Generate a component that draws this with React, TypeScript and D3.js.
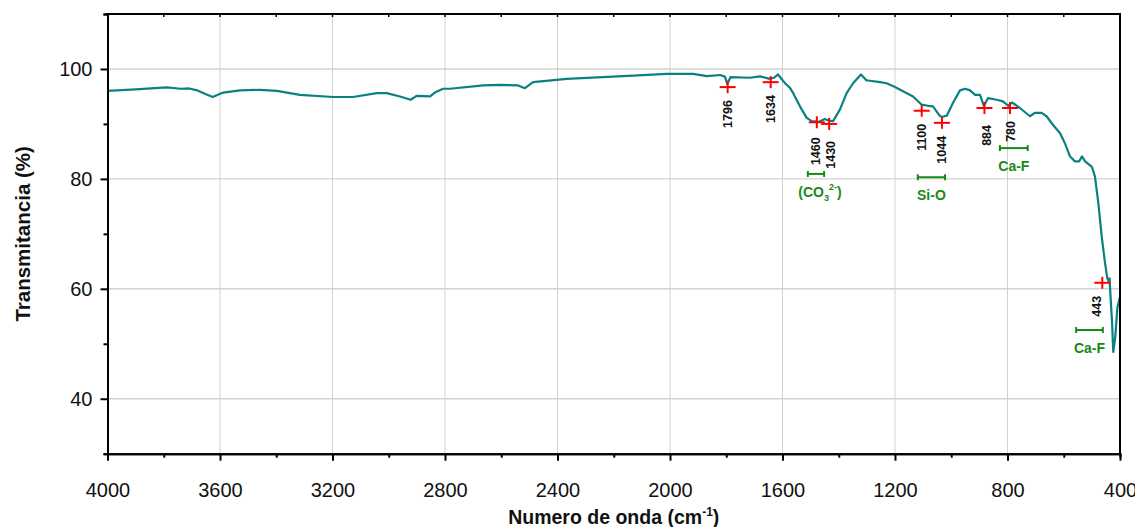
import React, { useRef, useEffect } from "react";
import * as d3 from "d3";

// FTIR spectrum (wavenumber in cm-1, transmittance in %)
const wavenumbers = [
  4000, 3900, 3790, 3740, 3710, 3680, 3650, 3626, 3589, 3529, 3458, 3398, 3316, 3198, 3127,
  3043, 3007, 2960, 2922, 2901, 2853, 2836, 2807, 2782, 2664, 2604, 2540, 2516, 2487, 2367,
  2131, 2012, 1918, 1869, 1822, 1805, 1796, 1785, 1716, 1680, 1645, 1630, 1616, 1591, 1574,
  1562, 1538, 1514, 1496, 1470, 1450, 1435, 1420, 1396, 1372, 1349, 1321, 1301, 1296, 1253,
  1230, 1200, 1136, 1105, 1083, 1065, 1040, 1030, 1016, 994, 969, 951, 933, 915, 898,
  884, 869, 839, 816, 798, 784, 756, 720, 703, 679, 661, 638, 613, 596, 578,
  561, 545, 535, 524, 500, 489, 477, 465, 453, 445, 439, 437, 435, 428, 424,
  417, 409, 400,
];
const transmittance = [
  96.0, 96.3, 96.65, 96.4, 96.45, 96.1, 95.4, 94.9, 95.7, 96.1, 96.2, 96.0, 95.3, 94.9, 94.9,
  95.6, 95.6, 95.0, 94.4, 95.1, 95.0, 95.7, 96.4, 96.4, 97.0, 97.1, 97.0, 96.5, 97.6, 98.2,
  98.8, 99.1, 99.1, 98.7, 98.9, 98.6, 97.3, 98.5, 98.4, 98.65, 98.2, 98.4, 99.0, 97.4, 96.6,
  95.6, 93.2, 91.1, 90.5, 90.4, 90.9, 90.6, 90.5, 92.6, 95.6, 97.4, 99.0, 97.9, 97.9, 97.6,
  97.4, 96.7, 95.0, 93.5, 93.3, 93.2, 91.4, 91.3, 91.5, 93.8, 96.1, 96.4, 96.1, 95.3, 95.3,
  93.3, 94.7, 94.4, 94.1, 93.3, 93.9, 92.9, 91.4, 92.0, 92.0, 91.4, 89.8, 88.3, 86.5, 84.1,
  83.2, 83.2, 84.1, 83.2, 82.2, 80.4, 75.6, 69.5, 64.6, 61.9, 61.3, 61.9, 59.8, 53.7, 48.5,
  51.2, 56.7, 58.5,
];

// red peak markers
const peakPositions = [1795, 1642, 1478, 1434, 1105, 1033, 882, 791, 463];
const peakValues = [96.7, 97.6, 90.3, 90.0, 92.4, 90.2, 92.9, 92.9, 61.1];
const peakLabels = ["1796", "1634", "1460", "1430", "1100", "1044", "884", "780", "443"];

// green assignment bands
const bandStarts = [1510, 1119, 827, 556];
const bandEnds = [1452, 1022, 728, 461];
const bandLevels = [80.9, 80.3, 85.6, 52.5];
const bandLabels = ["CO3", "Si-O", "Ca-F", "Ca-F"];

const xMajorTicks = [4000, 3600, 3200, 2800, 2400, 2000, 1600, 1200, 800, 400];
const xMinorTicks = [3800, 3400, 3000, 2600, 2200, 1800, 1400, 1000, 600];
const yMajorTicks = [40, 60, 80, 100];
const yMinorTicks = [30, 50, 70, 90, 110];

const FONT = "'Liberation Sans', Arial, Helvetica, sans-serif";
const TEAL = "#0b8080";
const GREEN = "#168a16";

// small nudges for the rotated peak labels (px), layout only
const labelNudge: Record<string, [number, number]> = {
  "1460": [-1, 2],
  "1430": [1, 4],
  "884": [2, 4],
  "780": [1, 0],
  "443": [-6, 0],
};

export default function App() {
  const svgRef = useRef<SVGSVGElement>(null);
  const width = 1135;
  const height = 527;
  const left = 107.5;
  const right = 1120;
  const top = 14;
  const bottom = 453.7;

  useEffect(() => {
    const x = d3.scaleLinear().domain([4000, 400]).range([left, right]);
    const y = d3.scaleLinear().domain([30, 110]).range([bottom, top]);

    const svg = d3.select(svgRef.current);
    svg.selectAll("*").remove();

    // grid
    const grid = svg.append("g").attr("stroke", "#d2d2d2").attr("stroke-width", 1);
    grid.selectAll("line.v")
      .data(xMajorTicks.slice(1, -1))
      .enter()
      .append("line")
      .attr("x1", d => x(d)).attr("x2", d => x(d))
      .attr("y1", top).attr("y2", bottom);
    grid.selectAll("line.h")
      .data(yMajorTicks)
      .enter()
      .append("line")
      .attr("x1", left).attr("x2", right)
      .attr("y1", d => y(d)).attr("y2", d => y(d))
      .attr("stroke-width", 1.4);

    // spectrum
    const pts = wavenumbers.map((w, i) => [w, transmittance[i]] as [number, number]);
    const line = d3.line<[number, number]>().x(d => x(d[0])).y(d => y(d[1]));
    svg.append("path")
      .datum(pts)
      .attr("d", line)
      .attr("fill", "none")
      .attr("stroke", TEAL)
      .attr("stroke-width", 2.2)
      .attr("stroke-linejoin", "round");

    // axes
    const styleAxis = (g: any) => {
      g.attr("font-family", FONT).attr("font-size", 20);
      g.selectAll(".domain").attr("stroke-width", 2);
      g.selectAll(".tick line").attr("stroke-width", 2);
      g.selectAll("text").attr("fill", "#111");
    };

    svg.append("g")
      .attr("transform", `translate(0,${bottom})`)
      .call(d3.axisBottom(x).tickValues(xMinorTicks).tickSize(4).tickFormat(() => ""))
      .call(styleAxis);
    svg.append("g")
      .attr("transform", `translate(0,${bottom})`)
      .call(d3.axisBottom(x).tickValues(xMajorTicks).tickSize(7).tickSizeOuter(0).tickPadding(22).tickFormat(d3.format("d")))
      .call(styleAxis);

    svg.append("g")
      .attr("transform", `translate(${left},0)`)
      .call(d3.axisLeft(y).tickValues(yMinorTicks).tickSize(4).tickFormat(() => ""))
      .call(styleAxis);
    svg.append("g")
      .attr("transform", `translate(${left},0)`)
      .call(d3.axisLeft(y).tickValues(yMajorTicks).tickSize(7).tickSizeOuter(0).tickPadding(8))
      .call(styleAxis);

    // top and right frame
    svg.append("line")
      .attr("x1", left - 1).attr("x2", right + 1).attr("y1", top).attr("y2", top)
      .attr("stroke", "#000").attr("stroke-width", 2);
    svg.append("line")
      .attr("x1", right).attr("x2", right).attr("y1", top).attr("y2", bottom)
      .attr("stroke", "#000").attr("stroke-width", 2);
    svg.append("g")
      .selectAll("line")
      .data([...xMajorTicks.slice(1, -1), ...xMinorTicks])
      .enter()
      .append("line")
      .attr("x1", d => x(d)).attr("x2", d => x(d))
      .attr("y1", top).attr("y2", top + 3)
      .attr("stroke", "#000").attr("stroke-width", 1.5);

    // axis titles
    const xt = svg.append("text")
      .attr("x", (left + right) / 2)
      .attr("y", 524)
      .attr("text-anchor", "middle")
      .attr("font-family", FONT)
      .attr("font-size", 19.5)
      .attr("font-weight", "bold")
      .attr("fill", "#111");
    xt.append("tspan").text("Numero de onda (cm");
    xt.append("tspan").attr("font-size", 12).attr("dy", -8).text("-1");
    xt.append("tspan").attr("dy", 8).text(")");

    svg.append("text")
      .attr("transform", `translate(30,${(top + bottom) / 2}) rotate(-90)`)
      .attr("text-anchor", "middle")
      .attr("font-family", FONT)
      .attr("font-size", 20.5)
      .attr("font-weight", "bold")
      .attr("fill", "#111")
      .text("Transmitancia (%)");

    // green bands
    bandLabels.forEach((lab, i) => {
      const x1 = x(bandStarts[i]);
      const x2 = x(bandEnds[i]);
      const yy = y(bandLevels[i]);
      const g = svg.append("g").attr("stroke", GREEN).attr("stroke-width", 2);
      g.append("line").attr("x1", x1).attr("x2", x2).attr("y1", yy).attr("y2", yy);
      g.append("line").attr("x1", x1).attr("x2", x1).attr("y1", yy - 3).attr("y2", yy + 3);
      g.append("line").attr("x1", x2).attr("x2", x2).attr("y1", yy - 3).attr("y2", yy + 3);

      const t = svg.append("text")
        .attr("x", (x1 + x2) / 2 + (lab === "CO3" ? 4 : 0))
        .attr("y", yy + 23)
        .attr("text-anchor", "middle")
        .attr("font-family", FONT)
        .attr("font-size", 14)
        .attr("font-weight", "bold")
        .attr("fill", GREEN);
      if (lab === "CO3") {
        t.append("tspan").text("(CO");
        t.append("tspan").attr("font-size", 9).attr("dy", 4).text("3");
        t.append("tspan").attr("font-size", 9).attr("dy", -11).text("2-");
        t.append("tspan").attr("dy", 7).text(")");
      } else {
        t.text(lab);
      }
    });

    // red peak markers and labels
    peakLabels.forEach((lab, i) => {
      const px = x(peakPositions[i]);
      const py = y(peakValues[i]);
      const g = svg.append("g").attr("stroke", "#ff0000").attr("stroke-width", 2);
      g.append("line").attr("x1", px - 8).attr("x2", px + 8).attr("y1", py).attr("y2", py);
      g.append("line").attr("x1", px).attr("x2", px).attr("y1", py - 6).attr("y2", py + 6);

      const [nx, ny] = labelNudge[lab] || [0, 0];
      svg.append("text")
        .attr("transform", `translate(${px + nx},${py + 13 + ny}) rotate(-90)`)
        .attr("text-anchor", "end")
        .attr("dy", "0.35em")
        .attr("font-family", FONT)
        .attr("font-size", 12.5)
        .attr("font-weight", "bold")
        .attr("fill", "#111")
        .text(lab);
    });
  }, []);

  return (
    <svg
      ref={svgRef}
      width={width}
      height={height}
      style={{ position: "absolute", left: 0, top: 0, background: "#fff" }}
    ></svg>
  );
}
